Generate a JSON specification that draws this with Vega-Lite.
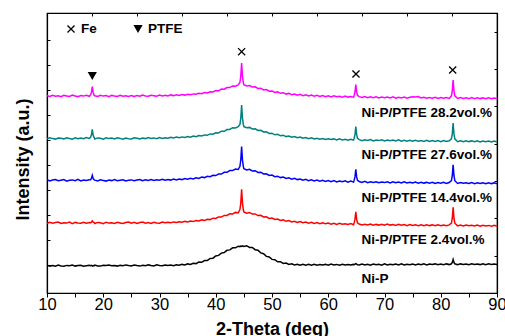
{
"$schema":"https://vega.github.io/schema/vega-lite/v6.json",
"width":450,"height":280,
"autosize":{"type":"none"},
"padding":{"left":47,"top":13,"right":8,"bottom":43},
"background":"white",
"config":{"view":{"stroke":"black","strokeWidth":1.2},"font":"Liberation Sans","axis":{"grid":false,"domainColor":"black","tickColor":"black","domainWidth":1.2,"tickWidth":1}},
"layer":[
{"data":{"values":[
{"x":10,"m":197.4,"t":154.1,"b":113.2,"r":69.6,"k":27.8},
{"x":10.5,"m":196.5,"t":155.2,"b":112.0,"r":70.8,"k":26.9},
{"x":11,"m":197.8,"t":154.4,"b":112.9,"r":69.8,"k":27.5},
{"x":11.5,"m":196.8,"t":153.9,"b":113.5,"r":70.5,"k":26.8},
{"x":12,"m":197.2,"t":155.0,"b":112.2,"r":71.0,"k":27.9},
{"x":12.5,"m":196.3,"t":154.8,"b":112.8,"r":69.5,"k":27.0},
{"x":13,"m":197.6,"t":154.0,"b":113.4,"r":70.3,"k":26.7},
{"x":13.5,"m":197.1,"t":155.3,"b":111.9,"r":69.9,"k":27.6},
{"x":14,"m":196.6,"t":154.5,"b":112.7,"r":70.9,"k":27.2},
{"x":14.5,"m":197.9,"t":153.8,"b":113.1,"r":69.4,"k":28.0},
{"x":15,"m":197.0,"t":155.1,"b":112.3,"r":70.6,"k":26.9},
{"x":15.5,"m":196.4,"t":154.3,"b":113.6,"r":70.0,"k":27.4},
{"x":16,"m":197.5,"t":154.9,"b":112.1,"r":69.7,"k":27.8},
{"x":16.5,"m":196.9,"t":154.2,"b":112.9,"r":70.7,"k":26.8},
{"x":17,"m":197.7,"t":155.4,"b":112.5,"r":69.8,"k":27.3},
{"x":17.5,"m":196.7,"t":154.6,"b":113.3,"r":70.4,"k":27.7},
{"x":17.75,"m":198.3,"t":155.7,"b":113.2,"r":70.3,"k":27.2},
{"x":17.9,"m":200.8,"t":158.2,"b":114.6,"r":70.9,"k":27.6},
{"x":18.05,"m":206.5,"t":163.6,"b":117.6,"r":72.1,"k":27.0},
{"x":18.2,"m":200.6,"t":158.0,"b":114.5,"r":70.8,"k":27.5},
{"x":18.35,"m":198.0,"t":155.9,"b":113.4,"r":70.6,"k":27.1},
{"x":18.5,"m":197.3,"t":154.0,"b":112.9,"r":69.5,"k":27.9},
{"x":19,"m":196.6,"t":155.1,"b":112.1,"r":70.6,"k":27.1},
{"x":19.5,"m":197.8,"t":154.7,"b":113.3,"r":70.2,"k":26.9},
{"x":20,"m":196.9,"t":153.9,"b":112.6,"r":69.4,"k":27.8},
{"x":20.5,"m":197.4,"t":155.2,"b":111.9,"r":70.8,"k":27.4},
{"x":21,"m":196.3,"t":154.4,"b":113.0,"r":69.9,"k":28.0},
{"x":21.5,"m":197.6,"t":154.9,"b":112.4,"r":70.3,"k":27.2},
{"x":22,"m":197.0,"t":154.1,"b":113.5,"r":69.6,"k":27.6},
{"x":22.5,"m":196.5,"t":155.3,"b":112.2,"r":70.7,"k":26.9},
{"x":23,"m":197.7,"t":154.6,"b":112.8,"r":70.1,"k":27.7},
{"x":23.5,"m":196.8,"t":153.8,"b":113.2,"r":69.5,"k":27.3},
{"x":24,"m":197.3,"t":155.0,"b":112.0,"r":70.5,"k":28.1},
{"x":24.5,"m":196.6,"t":154.3,"b":112.7,"r":70.9,"k":27.5},
{"x":25,"m":197.5,"t":154.0,"b":113.1,"r":69.7,"k":27.1},
{"x":25.5,"m":196.6,"t":155.3,"b":112.2,"r":70.6,"k":28.0},
{"x":26,"m":197.4,"t":154.8,"b":112.9,"r":69.5,"k":27.4},
{"x":26.5,"m":196.8,"t":154.1,"b":113.5,"r":70.4,"k":26.9},
{"x":27,"m":197.9,"t":155.0,"b":112.3,"r":70.9,"k":27.8},
{"x":27.5,"m":197.0,"t":154.4,"b":113.2,"r":69.8,"k":27.2},
{"x":28,"m":196.7,"t":155.4,"b":112.6,"r":70.5,"k":28.1},
{"x":28.5,"m":197.8,"t":154.5,"b":113.4,"r":69.6,"k":27.5},
{"x":29,"m":197.3,"t":155.1,"b":112.5,"r":70.8,"k":27.0},
{"x":29.5,"m":196.8,"t":154.3,"b":113.3,"r":70.1,"k":28.2},
{"x":30,"m":197.9,"t":155.5,"b":112.8,"r":69.7,"k":27.6},
{"x":30.5,"m":197.1,"t":154.6,"b":113.6,"r":70.9,"k":27.2},
{"x":31,"m":197.8,"t":155.2,"b":112.7,"r":70.2,"k":28.0},
{"x":31.5,"m":197.0,"t":154.7,"b":113.5,"r":70.8,"k":27.4},
{"x":32,"m":198.1,"t":155.7,"b":112.9,"r":70.3,"k":27.9},
{"x":32.5,"m":197.4,"t":155.0,"b":113.9,"r":71.1,"k":27.3},
{"x":33,"m":198.2,"t":155.9,"b":113.1,"r":70.5,"k":28.3},
{"x":33.5,"m":197.6,"t":155.2,"b":114.0,"r":71.3,"k":27.7},
{"x":34,"m":198.5,"t":156.1,"b":113.4,"r":70.7,"k":28.6},
{"x":34.5,"m":197.9,"t":155.6,"b":114.4,"r":71.6,"k":28.0},
{"x":35,"m":198.8,"t":156.4,"b":113.7,"r":71.0,"k":29.1},
{"x":35.5,"m":198.2,"t":155.8,"b":114.7,"r":71.9,"k":28.5},
{"x":36,"m":199.1,"t":156.9,"b":114.1,"r":71.4,"k":29.8},
{"x":36.5,"m":198.7,"t":156.3,"b":115.2,"r":72.4,"k":29.4},
{"x":37,"m":199.8,"t":157.5,"b":114.6,"r":72.0,"k":30.9},
{"x":37.5,"m":199.3,"t":157.0,"b":115.9,"r":73.1,"k":30.7},
{"x":38,"m":200.5,"t":158.1,"b":115.4,"r":72.6,"k":32.4},
{"x":38.5,"m":200.0,"t":157.7,"b":116.7,"r":73.8,"k":32.5},
{"x":39,"m":201.3,"t":159.1,"b":116.3,"r":73.4,"k":34.5},
{"x":39.5,"m":201.0,"t":158.8,"b":117.7,"r":74.8,"k":34.8},
{"x":40,"m":202.4,"t":160.2,"b":117.4,"r":74.5,"k":37.1},
{"x":40.5,"m":202.2,"t":160.1,"b":119.0,"r":76.1,"k":37.6},
{"x":41,"m":203.9,"t":161.8,"b":118.9,"r":75.9,"k":39.9},
{"x":41.5,"m":203.8,"t":161.7,"b":120.7,"r":77.6,"k":40.5},
{"x":42,"m":205.5,"t":163.5,"b":120.7,"r":77.5,"k":42.7},
{"x":42.5,"m":205.4,"t":163.5,"b":122.5,"r":79.3,"k":43.1},
{"x":43,"m":207.1,"t":165.3,"b":122.4,"r":79.1,"k":45.2},
{"x":43.5,"m":206.8,"t":165.1,"b":124.0,"r":80.6,"k":45.2},
{"x":44,"m":208.1,"t":166.3,"b":123.5,"r":80.2,"k":46.8},
{"x":44.3,"m":210.5,"t":168.6,"b":126.7,"r":83.5,"k":46.4},
{"x":44.45,"m":216.7,"t":174.8,"b":133.0,"r":89.9,"k":47.0},
{"x":44.6,"m":230.0,"t":188.0,"b":146.5,"r":103.7,"k":46.6},
{"x":44.75,"m":216.7,"t":174.8,"b":133.0,"r":89.9,"k":47.2},
{"x":44.9,"m":210.5,"t":168.6,"b":126.7,"r":83.5,"k":46.7},
{"x":45,"m":208.2,"t":166.4,"b":124.3,"r":81.1,"k":46.5},
{"x":45.5,"m":207.0,"t":165.2,"b":123.1,"r":79.8,"k":47.3},
{"x":46,"m":207.5,"t":165.6,"b":123.7,"r":80.4,"k":45.6},
{"x":46.5,"m":206.0,"t":164.0,"b":122.1,"r":78.9,"k":45.6},
{"x":47,"m":206.2,"t":164.2,"b":122.3,"r":79.1,"k":43.3},
{"x":47.5,"m":204.6,"t":162.5,"b":120.6,"r":77.4,"k":42.8},
{"x":48,"m":204.8,"t":162.7,"b":120.8,"r":77.7,"k":40.1},
{"x":48.5,"m":203.1,"t":161.0,"b":119.0,"r":76.0,"k":39.3},
{"x":49,"m":203.4,"t":161.2,"b":119.2,"r":76.2,"k":36.6},
{"x":49.5,"m":201.8,"t":159.5,"b":117.5,"r":74.6,"k":36.0},
{"x":50,"m":202.1,"t":159.8,"b":117.9,"r":75.0,"k":33.6},
{"x":50.5,"m":200.6,"t":158.2,"b":116.3,"r":73.5,"k":33.3},
{"x":51,"m":201.1,"t":158.7,"b":116.8,"r":73.9,"k":31.2},
{"x":51.5,"m":199.7,"t":157.2,"b":115.4,"r":72.5,"k":31.3},
{"x":52,"m":200.3,"t":157.8,"b":116.0,"r":73.1,"k":29.6},
{"x":52.5,"m":198.9,"t":156.4,"b":114.6,"r":71.7,"k":30.0},
{"x":53,"m":199.6,"t":157.0,"b":115.2,"r":72.4,"k":28.6},
{"x":53.5,"m":198.3,"t":155.7,"b":113.9,"r":71.1,"k":29.3},
{"x":54,"m":199.0,"t":156.4,"b":114.7,"r":71.8,"k":28.1},
{"x":54.5,"m":197.8,"t":155.2,"b":113.4,"r":70.6,"k":28.8},
{"x":55,"m":198.6,"t":155.9,"b":114.0,"r":71.4,"k":27.8},
{"x":55.5,"m":197.4,"t":154.7,"b":112.8,"r":70.2,"k":28.7},
{"x":56,"m":198.2,"t":155.5,"b":113.6,"r":71.0,"k":27.7},
{"x":56.5,"m":197.0,"t":154.3,"b":112.4,"r":69.8,"k":28.6},
{"x":57,"m":197.9,"t":155.1,"b":113.2,"r":70.7,"k":27.8},
{"x":57.5,"m":196.8,"t":154.0,"b":112.1,"r":69.6,"k":28.7},
{"x":58,"m":197.6,"t":154.8,"b":112.9,"r":70.4,"k":27.7},
{"x":58.5,"m":196.5,"t":153.8,"b":111.9,"r":69.3,"k":28.5},
{"x":59,"m":197.4,"t":154.5,"b":112.7,"r":70.2,"k":27.9},
{"x":59.5,"m":196.4,"t":153.5,"b":111.6,"r":69.2,"k":28.6},
{"x":60,"m":197.2,"t":154.3,"b":112.5,"r":69.9,"k":27.8},
{"x":60.5,"m":196.0,"t":153.5,"b":111.4,"r":68.9,"k":28.9},
{"x":61,"m":197.1,"t":154.1,"b":112.4,"r":69.8,"k":28.1},
{"x":61.5,"m":196.2,"t":153.0,"b":111.1,"r":68.6,"k":28.6},
{"x":62,"m":196.8,"t":154.2,"b":112.0,"r":69.7,"k":27.7},
{"x":62.5,"m":195.8,"t":153.1,"b":111.3,"r":68.7,"k":28.8},
{"x":63,"m":196.9,"t":153.8,"b":112.1,"r":69.2,"k":28.0},
{"x":63.5,"m":195.9,"t":152.7,"b":110.8,"r":68.6,"k":28.5},
{"x":64,"m":196.5,"t":153.8,"b":111.9,"r":69.4,"k":27.9},
{"x":64.5,"m":195.8,"t":152.9,"b":110.9,"r":68.2,"k":28.6},
{"x":64.6,"m":197.5,"t":154.6,"b":112.6,"r":70.1,"k":28.4},
{"x":64.75,"m":201.0,"t":158.4,"b":116.1,"r":73.6,"k":28.8},
{"x":64.9,"m":208.5,"t":166.5,"b":123.6,"r":81.1,"k":29.3},
{"x":65.05,"m":201.0,"t":158.4,"b":116.1,"r":73.6,"k":28.9},
{"x":65.2,"m":197.5,"t":154.6,"b":112.6,"r":70.1,"k":28.2},
{"x":65.5,"m":196.4,"t":153.4,"b":111.5,"r":69.0,"k":28.0},
{"x":66,"m":195.5,"t":152.4,"b":110.6,"r":68.1,"k":28.9},
{"x":66.5,"m":196.5,"t":153.3,"b":111.6,"r":68.8,"k":28.1},
{"x":67,"m":195.3,"t":152.5,"b":110.4,"r":68.1,"k":28.7},
{"x":67.5,"m":196.2,"t":153.4,"b":111.2,"r":68.9,"k":27.9},
{"x":68,"m":195.4,"t":152.1,"b":110.5,"r":67.8,"k":29.0},
{"x":68.5,"m":196.3,"t":153.0,"b":111.3,"r":68.6,"k":28.2},
{"x":69,"m":195.1,"t":152.4,"b":110.2,"r":67.9,"k":28.8},
{"x":69.5,"m":195.9,"t":153.2,"b":111.0,"r":68.8,"k":27.9},
{"x":70,"m":195.3,"t":152.1,"b":110.4,"r":67.7,"k":29.1},
{"x":70.5,"m":196.0,"t":153.0,"b":111.2,"r":68.9,"k":28.0},
{"x":71,"m":195.1,"t":152.3,"b":110.1,"r":67.9,"k":28.8},
{"x":71.5,"m":196.1,"t":152.9,"b":111.3,"r":68.5,"k":28.2},
{"x":72,"m":194.9,"t":152.1,"b":110.2,"r":67.6,"k":28.9},
{"x":72.5,"m":195.8,"t":153.1,"b":110.9,"r":68.7,"k":28.1},
{"x":73,"m":195.1,"t":151.9,"b":110.0,"r":67.7,"k":29.1},
{"x":73.5,"m":195.9,"t":152.7,"b":111.1,"r":68.4,"k":28.0},
{"x":74,"m":194.9,"t":151.9,"b":110.1,"r":67.4,"k":28.8},
{"x":74.5,"m":195.7,"t":152.8,"b":110.8,"r":68.5,"k":28.3},
{"x":75,"m":196.3,"t":151.7,"b":110.0,"r":67.5,"k":28.9},
{"x":75.5,"m":196.1,"t":152.6,"b":110.9,"r":68.2,"k":28.1},
{"x":76,"m":196.5,"t":151.8,"b":109.8,"r":67.4,"k":29.0},
{"x":76.5,"m":195.0,"t":152.5,"b":110.8,"r":68.3,"k":28.2},
{"x":77,"m":195.7,"t":151.6,"b":109.9,"r":67.2,"k":29.1},
{"x":77.5,"m":194.8,"t":152.6,"b":110.6,"r":68.2,"k":28.1},
{"x":78,"m":195.5,"t":151.5,"b":109.8,"r":67.4,"k":29.0},
{"x":78.5,"m":194.7,"t":152.4,"b":110.8,"r":68.1,"k":28.4},
{"x":79,"m":195.6,"t":151.6,"b":109.6,"r":67.2,"k":29.1},
{"x":79.5,"m":194.6,"t":152.4,"b":110.5,"r":68.2,"k":28.2},
{"x":80,"m":195.4,"t":151.4,"b":109.8,"r":67.3,"k":29.0},
{"x":80.5,"m":194.8,"t":152.5,"b":110.6,"r":68.0,"k":28.3},
{"x":81,"m":195.5,"t":151.5,"b":109.6,"r":67.3,"k":29.1},
{"x":81.5,"m":194.6,"t":152.2,"b":110.5,"r":68.1,"k":28.4},
{"x":81.9,"m":197.2,"t":154.1,"b":112.3,"r":69.8,"k":29.2},
{"x":82.05,"m":202.2,"t":159.1,"b":117.3,"r":74.8,"k":30.6},
{"x":82.2,"m":213.0,"t":169.9,"b":128.1,"r":85.6,"k":33.6},
{"x":82.35,"m":202.2,"t":159.1,"b":117.3,"r":74.8,"k":30.6},
{"x":82.5,"m":197.2,"t":154.1,"b":112.3,"r":69.8,"k":29.2},
{"x":83,"m":194.5,"t":151.3,"b":109.5,"r":67.1,"k":28.3},
{"x":83.5,"m":195.4,"t":152.3,"b":110.4,"r":67.9,"k":29.1},
{"x":84,"m":194.6,"t":151.2,"b":109.7,"r":67.0,"k":28.4},
{"x":84.5,"m":195.3,"t":152.2,"b":110.3,"r":67.9,"k":29.0},
{"x":85,"m":194.4,"t":151.4,"b":109.5,"r":67.2,"k":28.3},
{"x":85.5,"m":195.4,"t":152.1,"b":110.4,"r":67.8,"k":29.2},
{"x":86,"m":194.3,"t":151.2,"b":109.4,"r":67.0,"k":28.5},
{"x":86.5,"m":195.2,"t":152.2,"b":110.3,"r":67.9,"k":29.1},
{"x":87,"m":194.4,"t":151.1,"b":109.5,"r":66.9,"k":28.4},
{"x":87.5,"m":195.1,"t":152.0,"b":110.2,"r":67.8,"k":29.3},
{"x":88,"m":194.3,"t":151.2,"b":109.3,"r":67.0,"k":28.4},
{"x":88.5,"m":195.2,"t":151.9,"b":110.2,"r":67.6,"k":29.2},
{"x":89,"m":194.2,"t":151.1,"b":109.4,"r":66.8,"k":28.5},
{"x":89.5,"m":195.0,"t":152.0,"b":110.1,"r":67.7,"k":29.1},
{"x":90,"m":194.3,"t":151.0,"b":109.3,"r":66.8,"k":28.5}
]},
"transform":[{"fold":["m","t","b","r","k"],"as":["s","v"]}],
"mark":{"type":"line","strokeWidth":1.5,"clip":true},
"encoding":{
"x":{"field":"x","type":"quantitative","scale":{"domain":[10,90],"nice":false,"zero":false},
"axis":{"orient":"bottom","values":[10,15,20,25,30,35,40,45,50,55,60,65,70,75,80,85,90],"labelExpr":"datum.value % 10 === 0 ? datum.label : ''","tickSize":4,"labelPadding":-1,"labelFontSize":16.5,"labelColor":"black","labelFlush":false,"labelOverlap":false,"labelBound":false,"title":"2-Theta (deg)","titleFontSize":18,"titleFontWeight":"bold","titleColor":"black","titleY":41,"titleBaseline":"alphabetic"}},
"y":{"field":"v","type":"quantitative","scale":{"domain":[0,280],"nice":false,"zero":false},
"axis":{"orient":"left","values":[28,53,78,103,128,153,178,203,228,253],"labels":false,"tickSize":-3,"title":"Intensity (a.u.)","titleFontSize":18,"titleFontWeight":"bold","titleColor":"black","titleX":-24,"titleY":146,"titleBaseline":"middle"}},
"color":{"field":"s","type":"nominal","scale":{"domain":["m","t","b","r","k"],"range":["#ff00ff","#008080","#0000ff","#ff0000","#000000"]},"legend":null}
}},
{"data":{"values":[
{"x":65.9,"y":176.3,"label":"Ni-P/PTFE 28.2vol.%"},
{"x":65.9,"y":133.7,"label":"Ni-P/PTFE 27.6vol.%"},
{"x":65.9,"y":91,"label":"Ni-P/PTFE 14.4vol.%"},
{"x":65.9,"y":48.7,"label":"Ni-P/PTFE 2.4vol.%"},
{"x":65.9,"y":10.3,"label":"Ni-P"},
{"x":16.04,"y":259.7,"label":"Fe"},
{"x":27.96,"y":259.7,"label":"PTFE"}
]},
"mark":{"type":"text","align":"left","baseline":"alphabetic","fontSize":13.5,"fontWeight":"bold","color":"black"},
"encoding":{
"x":{"field":"x","type":"quantitative","scale":{"domain":[10,90],"nice":false,"zero":false},"axis":{"orient":"top","values":[10,18,26,34,42,50,58,66,74,82,90],"labels":false,"tickSize":-3,"title":null}},
"y":{"field":"y","type":"quantitative","scale":{"domain":[0,280],"nice":false,"zero":false},"axis":{"orient":"right","values":[37,75,112,149,187,224,261],"labels":false,"tickSize":-3,"title":null}},
"text":{"field":"label"}
}},
{"data":{"values":[{"x":14.27,"y":264},{"x":44.6,"y":241.3},{"x":64.93,"y":219},{"x":82.12,"y":223}]},
"mark":{"type":"point","shape":"M-1,-1L1,1M1,-1L-1,1","size":50,"color":"black","strokeWidth":1.3,"filled":false,"opacity":1},
"encoding":{
"x":{"field":"x","type":"quantitative","scale":{"domain":[10,90],"nice":false,"zero":false},"axis":null},
"y":{"field":"y","type":"quantitative","scale":{"domain":[0,280],"nice":false,"zero":false},"axis":null}
}},
{"data":{"values":[{"x":18.05,"y":217},{"x":26.18,"y":264}]},
"mark":{"type":"point","shape":"triangle-down","size":85,"color":"black","filled":true,"opacity":1},
"encoding":{
"x":{"field":"x","type":"quantitative","scale":{"domain":[10,90],"nice":false,"zero":false},"axis":null},
"y":{"field":"y","type":"quantitative","scale":{"domain":[0,280],"nice":false,"zero":false},"axis":null}
}}
],
"resolve":{"axis":{"x":"independent","y":"independent"}}
}
